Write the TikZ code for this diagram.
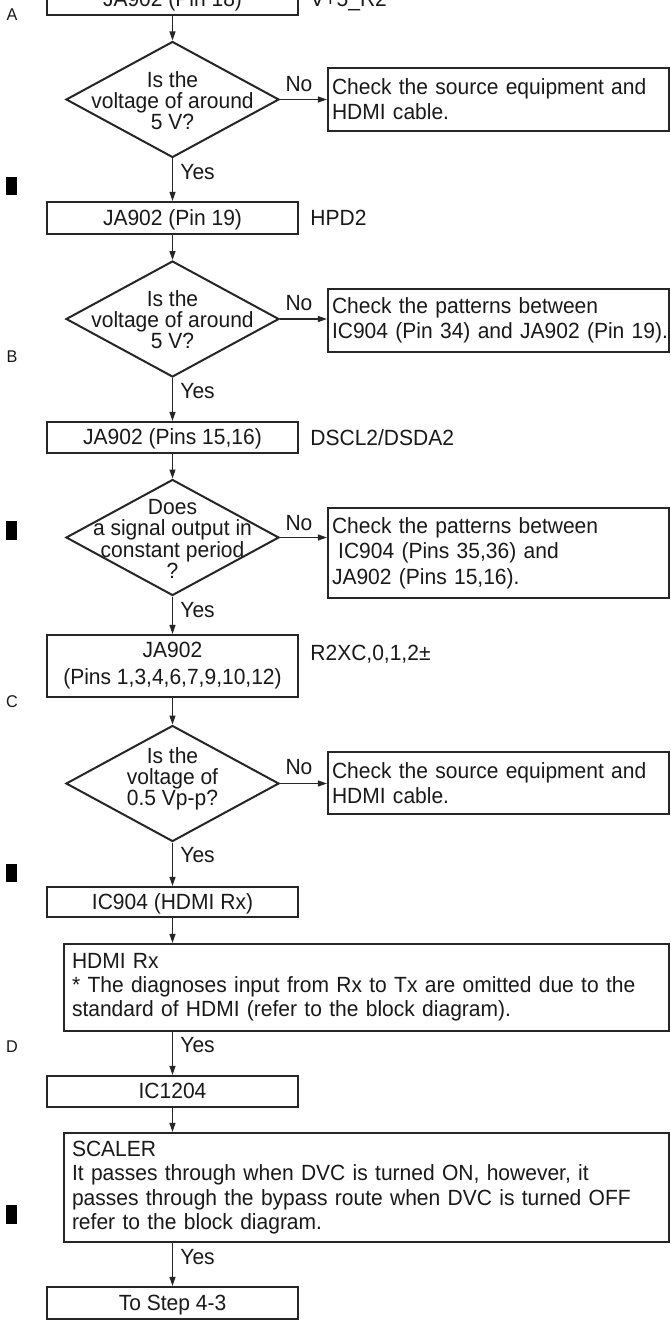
\documentclass[tikz,border=0pt]{standalone}
\usepackage{fontspec}
\setmainfont{Liberation Sans}[FakeStretch=0.955]
\usetikzlibrary{arrows.meta,shapes.geometric}
\begin{document}
\begin{tikzpicture}[x=0.5pt,y=-0.5pt,
  every node/.style={font=\fontsize{11pt}{12.5pt}\selectfont, text=black!90},
  box/.style={draw=black!85, line width=1.1pt, rectangle, inner sep=0pt, minimum width=125.5pt, minimum height=15.5pt, align=center},
  sbox/.style={box, text height=0.95em, text depth=0.234em},
  wbox/.style={draw=black!85, line width=1.1pt, rectangle, inner xsep=4pt, inner ysep=2pt, text width=294.5pt, align=left},
  cbox/.style={draw=black!85, line width=1.1pt, rectangle, inner xsep=2pt, inner ysep=2pt, text width=166.5pt, align=left},
  dia/.style={draw=black!85, line width=1pt, diamond, minimum width=106.5pt, minimum height=58pt, inner sep=0pt},
  dtext/.style={align=center, font=\fontsize{11pt}{10.5pt}\selectfont, inner sep=0pt},
  lbl/.style={anchor=west, inner sep=0pt},
  side/.style={anchor=base west, inner sep=0pt},
  letter/.style={font=\fontsize{8.5pt}{9pt}\selectfont, inner sep=0pt},
  arr/.style={-{Triangle[length=4.5pt,width=3pt]}, line width=0.55pt, draw=black!85}
]
\clip (0,0) rectangle (670,1321);
\fill[white] (0,0) rectangle (670,1321);

% row letters and markers
\node[letter] (la) at (12,15) {A};
\node[letter] (lb) at (12,357) {B};
\node[letter] (lc) at (12,702) {C};
\node[letter] (ld) at (12,1047) {D};
\fill[black] (6,177) rectangle (17,195);
\fill[black] (6,521) rectangle (17,540);
\fill[black] (6,864) rectangle (17,882);
\fill[black] (6,1205) rectangle (17,1224);

% main column
\node[sbox] (b1) at (172.5,-0.5) {JA902 (Pin 18)};
\node[side] (s1) at (310,7) {V+5\_R2};
\node[dia] (d1) at (172.5,99.5) {};
\node[dtext] (t1) at (172.5,100.5) {Is the\\voltage of around\\5 V?};
\node[cbox, minimum height=31.5pt] (c1) at (498.5,99.5) {Check the source equipment and\\HDMI cable.};

\node[sbox, minimum height=16pt] (b2) at (172.5,218) {JA902 (Pin 19)};
\node[side] (s2) at (310,225.5) {HPD2};
\node[dia] (d2) at (172.5,319) {};
\node[dtext] (t2) at (172.5,320) {Is the\\voltage of around\\5 V?};
\node[cbox, minimum height=31.5pt] (c2) at (498.5,320.5) {Check the patterns between\\\mbox{IC904 (Pin 34) and JA902 (Pin 19).}};

\node[sbox] (b3) at (172.5,437.5) {JA902 (Pins 15,16)};
\node[side] (s3) at (310,445) {DSCL2/DSDA2};
\node[dia] (d3) at (172.5,537.5) {};
\node[dtext, font=\fontsize{11pt}{10.7pt}\selectfont] (t3) at (172.5,539) {Does\\a signal output in\\constant period\\?};
\node[cbox, minimum height=45pt, font=\fontsize{11pt}{12.7pt}\selectfont] (c3) at (498.5,553) {Check the patterns between\\\hspace{0.28em}IC904 (Pins 35,36) and\\JA902 (Pins 15,16).};

\node[box, minimum height=31pt, font=\fontsize{11pt}{13.5pt}\selectfont] (b4) at (172.5,666) {JA902\\(Pins 1,3,4,6,7,9,10,12)};
\node[side] (s4) at (310,660.5) {R2XC,0,1,2±};
\node[dia] (d4) at (172.5,783.5) {};
\node[dtext] (t4) at (172.5,779) {Is the\\voltage of\\0.5 Vp-p?};
\node[cbox, minimum height=31pt] (c4) at (498.5,783) {Check the source equipment and\\HDMI cable.};

\node[sbox, minimum height=15pt] (b5) at (172.5,902) {IC904 (HDMI Rx)};
\node[wbox, minimum height=43.5pt, font=\fontsize{11pt}{12pt}\selectfont] (b6) at (366.5,987.5) {HDMI Rx\\{*} The diagnoses input from Rx to Tx are omitted due to the\\standard of HDMI (refer to the block diagram).};
\node[sbox] (b7) at (172.5,1091.5) {IC1204};
\node[wbox, minimum height=54.5pt, font=\fontsize{11pt}{12.1pt}\selectfont] (b8) at (366.5,1187.5) {SCALER\\It passes through when DVC is turned ON, however, it\\passes through the bypass route when DVC is turned OFF\\refer to the block diagram.};
\node[sbox, minimum height=16pt] (b9) at (172.5,1303) {To Step 4-3};

% Yes / No labels
\node[lbl] (y1) at (180,172) {Yes};
\node[lbl] (y2) at (180,391) {Yes};
\node[lbl] (y3) at (180,610) {Yes};
\node[lbl] (y4) at (180,855) {Yes};
\node[lbl] (y5) at (180,1045) {Yes};
\node[lbl] (y6) at (180,1257) {Yes};
\node[inner sep=0pt] (n1) at (299,84) {No};
\node[inner sep=0pt] (n2) at (299,303) {No};
\node[inner sep=0pt] (n3) at (299,523) {No};
\node[inner sep=0pt] (n4) at (299,767) {No};

% connectors
\draw[arr] (b1.south) -- (d1.north);
\draw[arr] (d1.south) -- (b2.north);
\draw[arr] (b2.south) -- (d2.north);
\draw[arr] (d2.south) -- (b3.north);
\draw[arr] (b3.south) -- (d3.north);
\draw[arr] (d3.south) -- (b4.north);
\draw[arr] (b4.south) -- (d4.north);
\draw[arr] (d4.south) -- (b5.north);
\draw[arr] (b5.south) -- (b5.south |- b6.north);
\draw[arr] (b6.south -| b7.north) -- (b7.north);
\draw[arr] (b7.south) -- (b7.south |- b8.north);
\draw[arr] (b8.south -| b9.north) -- (b9.north);
\draw[arr] (d1.east) -- (d1.east -| c1.west);
\draw[arr] (d2.east) -- (d2.east -| c2.west);
\draw[arr] (d3.east) -- (d3.east -| c3.west);
\draw[arr] (d4.east) -- (d4.east -| c4.west);
\end{tikzpicture}
\end{document}
